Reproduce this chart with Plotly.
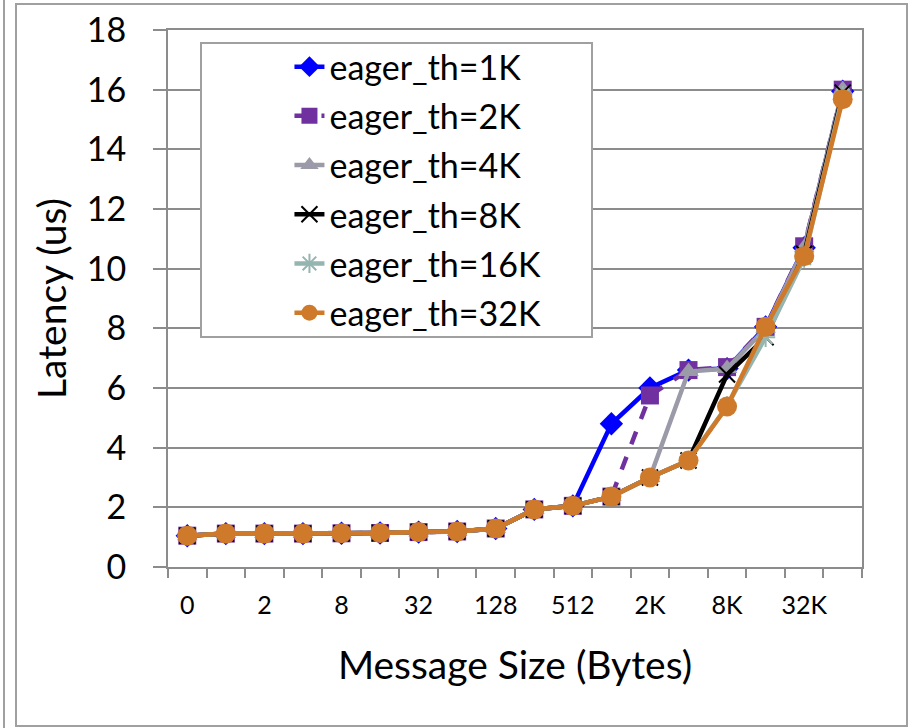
import plotly.graph_objects as go

sizes = ["0", "1", "2", "4", "8", "16", "32", "64", "128", "256", "512",
         "1K", "2K", "4K", "8K", "16K", "32K", "64K"]

eager_1k = [1.05, 1.12, 1.12, 1.12, 1.13, 1.14, 1.17, 1.19, 1.29, 1.93, 2.05,
            4.80, 6.00, 6.60, 6.65, 8.05, 10.70, 15.95]
eager_2k = [1.05, 1.12, 1.12, 1.12, 1.13, 1.14, 1.17, 1.19, 1.29, 1.93, 2.05,
            2.36, 5.75, 6.60, 6.70, 8.05, 10.75, 16.00]
eager_4k = [1.05, 1.12, 1.12, 1.12, 1.13, 1.14, 1.17, 1.19, 1.29, 1.93, 2.05,
            2.36, 3.00, 6.55, 6.65, 8.00, 10.70, 16.00]
eager_8k = [1.05, 1.12, 1.12, 1.12, 1.13, 1.14, 1.17, 1.19, 1.29, 1.93, 2.05,
            2.36, 3.00, 3.57, 6.45, 7.70, 10.50, 15.90]
eager_16k = [1.05, 1.12, 1.12, 1.12, 1.13, 1.14, 1.17, 1.19, 1.29, 1.93, 2.05,
             2.36, 3.00, 3.57, 5.40, 7.70, 10.35, 15.80]
eager_32k = [1.05, 1.12, 1.12, 1.12, 1.13, 1.14, 1.17, 1.19, 1.29, 1.93, 2.05,
             2.36, 3.00, 3.57, 5.38, 8.05, 10.42, 15.68]

series_names = ["eager_th=1K", "eager_th=2K", "eager_th=4K",
                "eager_th=8K", "eager_th=16K", "eager_th=32K"]
series_values = [eager_1k, eager_2k, eager_4k, eager_8k, eager_16k, eager_32k]
colors = ["#0000FF", "#7030A0", "#9A9AA8", "#000000", "#95B5B0", "#CF7A2A"]
symbols = ["diamond", "square", "triangle-up", "x-thin", "asterisk", "circle"]
msizes = [18, 18, 18, 16, 16, 20]
dashes = ["solid", "dash", "solid", "solid", "solid", "solid"]

tick_text = [s if i % 2 == 0 else "" for i, s in enumerate(sizes)]

FONT = "Lato"
GRID = "#8C8C8C"

fig = go.Figure()
for i, (name, vals) in enumerate(zip(series_names, series_values)):
    thin = symbols[i] in ("x-thin", "asterisk")
    fig.add_trace(go.Scatter(
        x=sizes, y=vals, name=name, mode="lines+markers",
        legendgroup=name,
        line=dict(color=colors[i], width=4.5, dash=dashes[i]),
        marker=dict(symbol=symbols[i], size=msizes[i], color=colors[i],
                    line=dict(color=colors[i], width=2 if thin else 0)),
    ))

fig.update_layout(
    width=912, height=728,
    margin=dict(l=168, r=50, t=30, b=161),
    paper_bgcolor="white", plot_bgcolor="white",
    font=dict(family=FONT, color="black"),
    showlegend=True,
    legend=dict(
        x=0.175, y=0.985, xanchor="left", yanchor="top",
        bgcolor="rgba(0,0,0,0)", borderwidth=0,
        font=dict(family=FONT, size=34, color="black"),
        tracegroupgap=2,
    ),
    xaxis=dict(
        type="category", tickvals=sizes, ticktext=tick_text,
        range=[-0.5, len(sizes) - 0.5],
        tickson="boundaries", ticks="outside", ticklen=9, tickwidth=2,
        tickcolor=GRID, showgrid=False, tickangle=0, automargin=False,
        ticklabelstandoff=15,
        showline=True, linecolor=GRID, linewidth=2, mirror=True,
        tickfont=dict(family=FONT, size=25),
        title=dict(text="Message Size (Bytes)", font=dict(family=FONT, size=39),
                   standoff=34),
    ),
    yaxis=dict(
        range=[0, 18], dtick=2, tick0=0, automargin=False,
        ticks="outside", ticklen=13, tickwidth=2, tickcolor=GRID,
        ticklabelstandoff=20,
        showgrid=True, gridcolor=GRID, gridwidth=2, zeroline=False,
        showline=True, linecolor=GRID, linewidth=2, mirror=True,
        tickfont=dict(family=FONT, size=34),
        title=dict(text="Latency (us)", font=dict(family=FONT, size=39),
                   standoff=8),
    ),
)

# legend box (drawn as a shape behind the transparent legend)
def px_x(px):
    return (px - 168) / 694.0

def px_y(py):
    return (567 - py) / 537.0

fig.add_shape(type="rect", xref="paper", yref="paper",
              x0=px_x(201), x1=px_x(592), y0=px_y(337), y1=px_y(43),
              fillcolor="white", line=dict(color="#A0A0A0", width=2), layer="above")
# outer chart frame
fig.add_shape(type="rect", xref="paper", yref="paper",
              x0=px_x(16), x1=px_x(907), y0=px_y(726), y1=px_y(4),
              line=dict(color="#A0A0A0", width=2), layer="below")
fig.add_shape(type="line", xref="paper", yref="paper",
              x0=px_x(4), x1=px_x(4), y0=px_y(728), y1=px_y(0),
              line=dict(color="#A0A0A0", width=2), layer="below")

fig.write_html("out.html",
               config={"displayModeBar": False},
               post_script="document.body.style.margin='0';document.body.style.overflow='hidden';")
